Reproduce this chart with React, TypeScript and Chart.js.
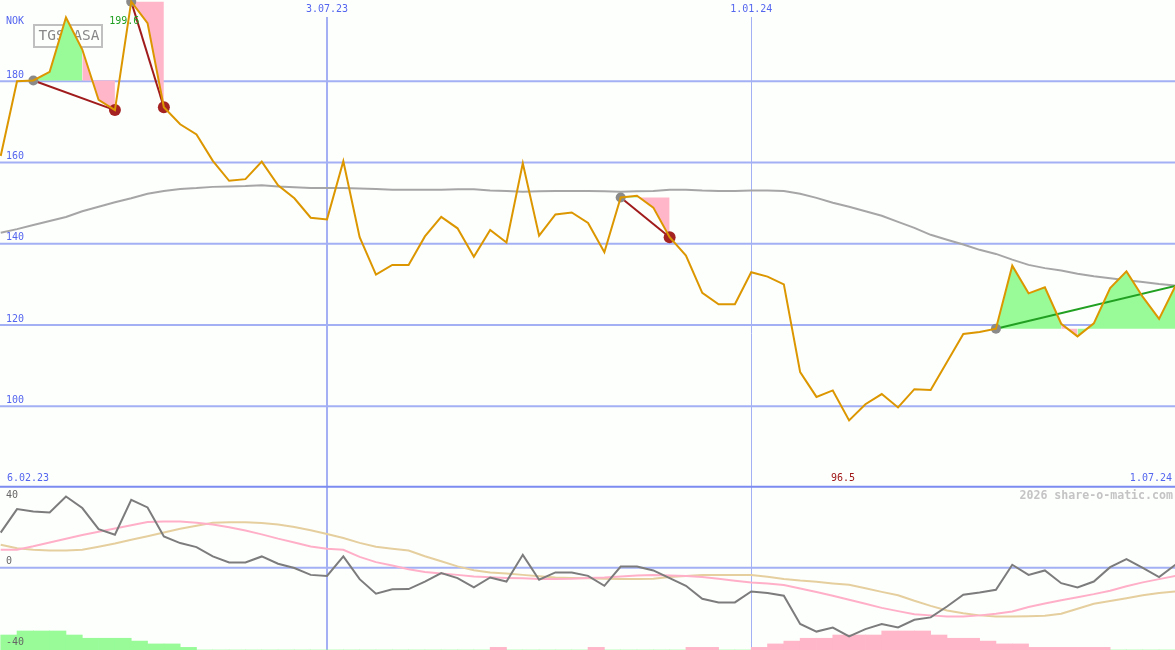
import React, { useEffect, useRef } from 'react';
import { Chart, registerables } from 'chart.js';

Chart.register(...registerables);

// ---------- data ----------
const ticker = 'TGS ASA';
const currency = 'NOK';
const watermark = '2026 share-o-matic.com';

// weekly closing prices (NOK), index 0 = first week shown
const price = [
  161.6, 180.0, 180.2, 182.3, 195.7, 187.8, 175.4, 172.9, 199.6, 194.3,
  173.6, 169.4, 166.9, 160.4, 155.5, 155.9, 160.2, 154.4, 151.2, 146.4,
  146.0, 160.3, 141.6, 132.4, 134.8, 134.8, 141.8, 146.6, 143.8, 136.8,
  143.4, 140.3, 159.8, 142.0, 147.2, 147.7, 145.1, 137.9, 151.4, 151.8,
  148.9, 141.6, 137.1, 127.9, 125.1, 125.1, 133.0, 131.9, 130.0, 108.4,
  102.3, 103.9, 96.5, 100.5, 103.0, 99.7, 104.2, 104.0, 110.9, 117.8,
  118.3, 119.1, 134.6, 127.8, 129.3, 120.3, 117.2, 120.4, 129.1, 133.2,
  126.9, 121.5, 129.6,
];

// long moving average (grey)
const movingAvg = [
  142.7, 143.6, 144.6, 145.6, 146.6, 148.0, 149.1, 150.2, 151.2, 152.3,
  153.0, 153.5, 153.7, 154.0, 154.1, 154.2, 154.4, 154.1, 153.9, 153.7,
  153.7, 153.7, 153.6, 153.5, 153.3, 153.3, 153.3, 153.3, 153.4, 153.4,
  153.1, 153.0, 152.8, 152.9, 153.0, 153.0, 153.0, 152.9, 152.8, 152.9,
  153.0, 153.3, 153.3, 153.1, 153.0, 153.0, 153.1, 153.1, 153.0, 152.3,
  151.3, 150.1, 149.1, 148.0, 146.9, 145.4, 143.9, 142.2, 141.0, 139.8,
  138.5, 137.5, 136.1, 134.8, 134.0, 133.4, 132.6, 132.0, 131.5, 131.0,
  130.6, 130.1, 129.7,
];

// lower panel: oscillator (dark grey) and its two averages (pink, tan)
const oscillator = [
  17.4, 29.0, 27.8, 27.3, 35.2, 29.5, 19.1, 16.3, 33.6, 29.8,
  15.5, 12.2, 10.2, 5.6, 2.6, 2.6, 5.6, 2.0, -0.1, -3.5,
  -4.0, 5.6, -5.6, -12.8, -10.6, -10.5, -6.8, -2.6, -5.1, -9.7,
  -4.8, -6.8, 6.4, -5.9, -2.3, -2.3, -4.0, -8.9, 0.6, 0.6,
  -1.3, -5.1, -8.9, -15.3, -17.1, -17.1, -11.7, -12.5, -13.8, -27.7,
  -31.5, -29.5, -33.9, -30.3, -27.8, -29.5, -25.7, -24.5, -19.1, -13.3,
  -12.2, -10.9, 1.5, -3.5, -1.3, -7.6, -9.7, -6.8, 0.3, 4.3,
  -0.1, -4.6, 1.5,
];
const oscFast = [
  8.9, 8.9, 10.6, 12.5, 14.3, 16.2, 17.8, 19.4, 21.0, 22.6,
  22.9, 22.9, 22.2, 21.4, 20.0, 18.4, 16.5, 14.4, 12.5, 10.5,
  9.4, 8.9, 5.4, 2.8, 1.1, -0.7, -2.1, -2.8, -3.5, -4.3,
  -4.7, -5.0, -5.2, -5.5, -5.5, -5.4, -5.1, -4.8, -4.3, -3.8,
  -3.6, -3.8, -4.1, -4.5, -5.4, -6.4, -7.3, -7.8, -8.5, -10.2,
  -12.0, -13.8, -15.8, -17.8, -19.8, -21.4, -22.9, -23.5, -24.0, -24.0,
  -23.5, -22.7, -21.6, -19.4, -17.6, -16.0, -14.5, -13.0, -11.3, -9.1,
  -7.2, -5.6, -4.0,
];
const oscSlow = [
  11.4, 9.7, 8.9, 8.5, 8.5, 8.9, 10.4, 12.0, 13.8, 15.6,
  17.4, 19.3, 20.8, 22.2, 22.5, 22.5, 22.1, 21.4, 20.1, 18.5,
  16.7, 14.7, 12.3, 10.4, 9.4, 8.5, 5.7, 3.2, 0.7, -1.2,
  -2.3, -2.8, -3.5, -4.2, -4.8, -5.0, -5.2, -5.4, -5.5, -5.5,
  -5.4, -4.6, -4.1, -3.6, -3.5, -3.5, -3.6, -4.4, -5.5, -6.3,
  -6.9, -7.7, -8.4, -10.1, -11.9, -13.6, -16.3, -18.8, -21.1, -22.4,
  -23.5, -24.0, -24.0, -23.9, -23.7, -22.7, -20.2, -17.8, -16.4, -15.0,
  -13.6, -12.5, -11.7,
];
// histogram per week interval (positive = green, negative = pink)
const histogram = [
  7.4, 9.4, 9.4, 9.4, 7.4, 5.8, 5.8, 5.8, 4.4, 3.0,
  3.0, 1.3, 0, 0, 0, 0, 0, 0, 0, 0,
  0, 0, 0, 0, 0, 0, 0, 0, 0, 0,
  -1.3, 0, 0, 0, 0, 0, -1.3, 0, 0, 0,
  0, 0, -1.3, -1.3, 0, 0, -1.3, -3.0, -4.4, -5.8,
  -5.8, -7.4, -7.4, -7.4, -9.4, -9.4, -9.4, -7.4, -5.8, -5.8,
  -4.4, -3.0, -3.0, -1.3, -1.3, -1.3, -1.3, -1.3, 0, 0,
  0, 0,
];

const priceTicks = [180, 160, 140, 120, 100];
const oscTicks = [40, 0, -40];
const dateTickIdx = [20, 46];
const dateTickLabels = ['3.07.23', '1.01.24'];
const startLabel = '6.02.23';
const endLabel = '1.07.24';

// trend patterns: start / end week index
const patternStart = [2, 8, 38, 61];
const patternEnd = [7, 10, 41, 72];
const patternOpen = [false, false, false, true];

// ---------- styles ----------
const MONO = '"DejaVu Sans Mono", "Liberation Mono", monospace';
const BG = '#fdfffd';
const GRID = '#a3b0f3';
const SEP = '#7b8bef';
const LABEL = '#5566ee';
const ORANGE = '#dc9700';
const GREEN_FILL = '#98fb98';
const PINK_FILL = '#ffb6c8';

const pts = (arr: number[]) => arr.map((v, i) => ({ x: i, y: v }));

const drawText = (ctx: any, s: string, px: number, py: number, color: string, align: CanvasTextAlign, font = `10px ${MONO}`) => {
  ctx.font = font;
  ctx.fillStyle = color;
  ctx.textAlign = align;
  ctx.textBaseline = 'middle';
  ctx.fillText(s, px, py);
};

const decor = {
  id: 'decor',
  beforeDraw(chart: any) {
    const { ctx, width, height } = chart;
    ctx.save();
    ctx.fillStyle = BG;
    ctx.fillRect(0, 0, width, height);
    ctx.restore();
  },
  beforeDatasetsDraw(chart: any) {
    const { ctx, width, height, scales } = chart;
    const x = scales.x, y = scales.y, y2 = scales.y2;
    ctx.save();
    // main horizontal grid
    ctx.strokeStyle = GRID;
    ctx.lineWidth = 2;
    priceTicks.forEach((v) => {
      const py = y.getPixelForValue(v);
      ctx.beginPath(); ctx.moveTo(0, py); ctx.lineTo(width, py); ctx.stroke();
    });
    // lower zero line
    const zy = y2.getPixelForValue(0);
    ctx.beginPath(); ctx.moveTo(0, zy); ctx.lineTo(width, zy); ctx.stroke();
    // vertical date lines
    dateTickIdx.forEach((d, k) => {
      const yearStart = dateTickLabels[k].startsWith('1.01.');
      const px = x.getPixelForValue(d);
      ctx.lineWidth = yearStart ? 1 : 2;
      ctx.strokeStyle = GRID;
      const xx = yearStart ? Math.floor(px) + 0.5 : px;
      ctx.beginPath(); ctx.moveTo(xx, 17); ctx.lineTo(xx, height); ctx.stroke();
      drawText(ctx, dateTickLabels[k], px, 9, LABEL, 'center');
    });
    // panel separator
    const sepY = y2.getPixelForValue(oscTicks[0]);
    ctx.strokeStyle = SEP;
    ctx.lineWidth = 2;
    ctx.beginPath(); ctx.moveTo(0, sepY); ctx.lineTo(width, sepY); ctx.stroke();

    // labels
    drawText(ctx, currency, 6, 21, LABEL, 'left');
    priceTicks.forEach((v) => drawText(ctx, String(v), 6, y.getPixelForValue(v) - 6, LABEL, 'left'));
    drawText(ctx, startLabel, 7, sepY - 8, LABEL, 'left');
    drawText(ctx, endLabel, width - 3, sepY - 8, LABEL, 'right');
    drawText(ctx, watermark, width - 2, sepY + 9, '#c4c4c4', 'right', `bold 11.6px ${MONO}`);

    // ticker box
    ctx.strokeStyle = '#c0c0c0';
    ctx.lineWidth = 2;
    ctx.strokeRect(34, 25, 68, 22);
    drawText(ctx, ticker, 69, 36.5, '#888888', 'center', `14.5px ${MONO}`);
    ctx.restore();
  },
  afterDatasetsDraw(chart: any) {
    const { ctx, scales } = chart;
    const x = scales.x, y = scales.y, y2 = scales.y2;
    const sepY = y2.getPixelForValue(oscTicks[0]);
    let maxI = 0, minI = 0;
    price.forEach((v, i) => { if (v > price[maxI]) maxI = i; if (v < price[minI]) minI = i; });
    ctx.save();
    oscTicks.forEach((v) => {
      const py = Math.max(y2.getPixelForValue(v) - 6, sepY + 9);
      drawText(ctx, String(v), 6, py, '#666666', 'left');
    });
    drawText(ctx, price[maxI].toFixed(1), x.getPixelForValue(maxI) - 7, y.getPixelForValue(price[maxI]) + 20, '#1e9e1e', 'center');
    drawText(ctx, price[minI].toFixed(1), x.getPixelForValue(minI) - 6, sepY - 8, '#a01818', 'center');
    ctx.restore();
  },
};

export default function App() {
  const ref = useRef<HTMLCanvasElement>(null);
  useEffect(() => {
    document.body.style.margin = '0';
    const datasets: any[] = [];
    datasets.push({
      type: 'line', data: pts(price), borderColor: ORANGE, borderWidth: 2,
      pointRadius: 0, tension: 0, fill: false, yAxisID: 'y', order: 0,
    });
    datasets.push({
      type: 'line', showLine: false, data: patternStart.map((i) => ({ x: i, y: price[i] })),
      pointRadius: 5, pointBackgroundColor: '#8a8a8a', pointBorderWidth: 0, yAxisID: 'y', order: 1,
    });
    datasets.push({
      type: 'line', showLine: false,
      data: patternEnd.filter((_, k) => !patternOpen[k]).map((i) => ({ x: i, y: price[i] })),
      pointRadius: 6, pointBackgroundColor: '#a52222', pointBorderWidth: 0, yAxisID: 'y', order: 1,
    });
    patternStart.forEach((s, k) => {
      const e = patternEnd[k];
      const up = price[e] >= price[s];
      datasets.push({
        type: 'line', data: [{ x: s, y: price[s] }, { x: e, y: price[e] }],
        borderColor: up ? '#22a022' : '#a01c1c', borderWidth: 2, pointRadius: 0,
        fill: false, yAxisID: 'y', order: 2,
      });
      const level = price[s];
      datasets.push({
        type: 'line', data: price.slice(s, e + 1).map((v, j) => ({ x: s + j, y: v })),
        borderColor: 'rgba(0,0,0,0)', borderWidth: 0, pointRadius: 0,
        backgroundColor: GREEN_FILL, fill: { value: level },
        segment: {
          backgroundColor: (c: any) => (price[s + c.p1DataIndex] >= level ? GREEN_FILL : PINK_FILL),
        },
        yAxisID: 'y', order: 4,
      });
    });
    datasets.push({
      type: 'line', data: pts(movingAvg), borderColor: '#a6a6a6', borderWidth: 2,
      pointRadius: 0, fill: false, yAxisID: 'y', order: 5,
    });
    datasets.push({
      type: 'line', data: pts(oscillator), borderColor: '#7c7c7c', borderWidth: 2,
      pointRadius: 0, fill: false, yAxisID: 'y2', order: 0,
    });
    datasets.push({
      type: 'line', data: pts(oscFast), borderColor: '#ffb0c8', borderWidth: 2,
      pointRadius: 0, fill: false, yAxisID: 'y2', order: 1,
    });
    datasets.push({
      type: 'line', data: pts(oscSlow), borderColor: '#e6cf9f', borderWidth: 2,
      pointRadius: 0, fill: false, yAxisID: 'y2', order: 2,
    });
    datasets.push({
      type: 'bar', data: histogram.map((v, i) => ({ x: i + 0.5, y: Math.abs(v) })),
      backgroundColor: histogram.map((v) => (v >= 0 ? GREEN_FILL : PINK_FILL)),
      barPercentage: 1, categoryPercentage: 1, borderWidth: 0, yAxisID: 'yh', order: 9,
    });

    const chart = new Chart(ref.current as HTMLCanvasElement, {
      type: 'line',
      data: { datasets },
      options: {
        animation: false,
        responsive: false,
        devicePixelRatio: 1,
        layout: { padding: 0, autoPadding: false },
        events: [],
        plugins: { legend: { display: false }, tooltip: { enabled: false } },
        scales: {
          x: {
            type: 'linear', min: -0.0435, max: 71.975, display: false, offset: false,
            afterBuildTicks: (s: any) => { s.ticks = dateTickIdx.map((v) => ({ value: v })); },
          },
          y: { type: 'linear', min: 40, max: 200, display: false },
          y2: { type: 'linear', min: -40.6, max: 280.4, display: false },
          yh: { type: 'linear', min: 0, max: 321, display: false },
        },
      } as any,
      plugins: [decor],
    });
    return () => chart.destroy();
  }, []);
  return <canvas ref={ref} width={1175} height={650} style={{ display: 'block' }} />;
}
